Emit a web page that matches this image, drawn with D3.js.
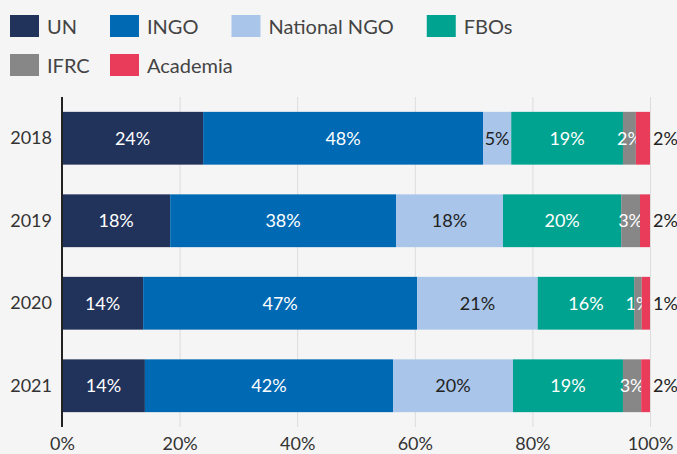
<!DOCTYPE html>
<html>
<head>
<meta charset="utf-8">
<script src="https://cdn.jsdelivr.net/npm/d3@7"></script>
<style>
  body { margin: 0; background: #f5f5f5; }
  svg { display: block; font-family: Lato, "Open Sans", sans-serif; }
</style>
</head>
<body>
<svg id="chart" width="677" height="454"></svg>
<script>
var years = ["2018", "2019", "2020", "2021"];
var groups = ["UN", "INGO", "National NGO", "FBOs", "IFRC", "Academia"];
var UN = [24.0, 18.4, 13.8, 14.1];
var INGO = [47.6, 38.4, 46.6, 42.2];
var NationalNGO = [4.8, 18.2, 20.5, 20.4];
var FBOs = [19.0, 20.1, 16.4, 18.7];
var IFRC = [2.2, 3.2, 1.3, 3.1];
var Academia = [2.4, 1.7, 1.4, 1.5];
var xTicks = [0, 20, 40, 60, 80, 100];

var colors = ["#21335b", "#0069b4", "#a9c5e9", "#00a38f", "#878787", "#e83c5a"];
var labelColors = ["#fff", "#fff", "#222", "#fff", "#fff", "#222"];

var series = [UN, INGO, NationalNGO, FBOs, IFRC, Academia];
var rows = years.map(function (y, i) {
    var r = { year: y };
    groups.forEach(function (g, j) { r[g] = series[j][i]; });
    return r;
});

var svg = d3.select("#chart");
var margin = { top: 97, right: 27, bottom: 27, left: 62 },
    width = 677 - margin.left - margin.right,
    height = 454 - margin.top - margin.bottom;

// legend
var legend = svg.append("g");
var lx = 10, colX = [];
groups.forEach(function (g, i) {
    var row = i < 4 ? 0 : 1;
    var x = row == 0 ? lx : colX[i - 4];
    var item = legend.append("g").attr("transform", "translate(" + x + "," + (row == 0 ? 15 : 54) + ")");
    item.append("rect").attr("width", 29).attr("height", 22).attr("fill", colors[i]);
    var t = item.append("text").attr("x", 37).attr("y", 12).attr("dy", "0.35em")
        .attr("font-size", "20px").attr("fill", "#444").text(g);
    if (row == 0) {
        colX.push(lx);
        lx += 37 + t.node().getComputedTextLength() + 33;
    }
});

var x = d3.scaleLinear().domain([0, 100]).range([0, width]);
var y = d3.scaleBand().domain(years).range([0, height]).paddingInner(0.36).paddingOuter(0.18);

var g = svg.append("g").attr("transform", "translate(" + margin.left + "," + margin.top + ")");

// gridlines
g.append("g")
    .call(d3.axisBottom(x).tickValues(xTicks.slice(1)).tickSize(height).tickFormat(""))
    .call(function (a) { a.select(".domain").remove(); })
    .selectAll("line").attr("stroke", "#dcdcdc");

var stack = d3.stack().keys(groups)(rows);

var layers = g.selectAll(".layer").data(stack).enter().append("g")
    .attr("fill", function (d, i) { return colors[i]; });

layers.selectAll("rect").data(function (d) { return d; }).enter().append("rect")
    .attr("x", function (d) { return x(d[0]); })
    .attr("y", function (d) { return y(d.data.year); })
    .attr("width", function (d) { return x(d[1]) - x(d[0]); })
    .attr("height", y.bandwidth());

layers.selectAll("text").data(function (d) { return d; }).enter().append("text")
    .attr("x", function (d) {
        var k = this.parentNode.__data__.index;
        return k == 5 ? x(d[1]) + 3 : x((d[0] + d[1]) / 2);
    })
    .attr("y", function (d) { return y(d.data.year) + y.bandwidth() / 2; })
    .attr("dy", "0.35em")
    .attr("text-anchor", function () { return this.parentNode.__data__.index == 5 ? "start" : "middle"; })
    .attr("font-size", "18px")
    .attr("fill", function () { return labelColors[this.parentNode.__data__.index]; })
    .text(function (d) { return Math.round(d[1] - d[0]) + "%"; });

// x axis labels
g.append("g")
    .attr("transform", "translate(0," + height + ")")
    .call(d3.axisBottom(x).tickValues(xTicks).tickSize(0).tickPadding(10).tickFormat(function (d) { return d + "%"; }))
    .attr("font-family", null)
    .call(function (a) { a.select(".domain").remove(); })
    .selectAll("text").attr("font-size", "18px").attr("fill", "#333");

// y axis
g.append("g")
    .call(d3.axisLeft(y).tickSize(0).tickPadding(10))
    .attr("font-family", null)
    .call(function (a) { a.select(".domain").attr("stroke", "#222").attr("stroke-width", 2).attr("d", "M0,0V" + height); })
    .selectAll("text").attr("font-size", "18px").attr("fill", "#333");
</script>
</body>
</html>
